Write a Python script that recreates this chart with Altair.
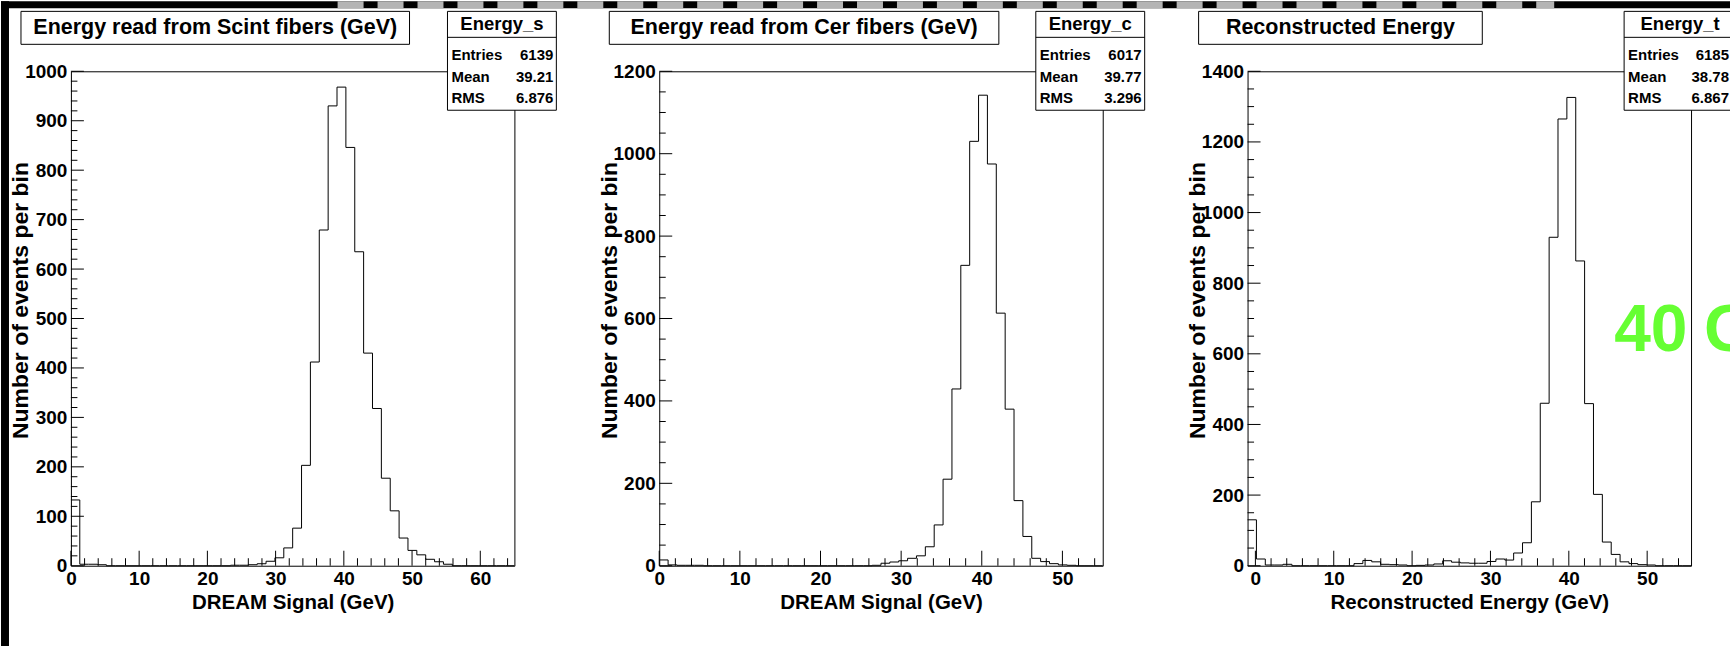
import altair as alt
import numpy as np
import pandas as pd

FONT = "Liberation Sans"
W, H = 444, 495          # plot area of each panel
OFF = 70                 # plot area offset from page top/left (panel 1)

# ---------------- data ----------------
scint_counts = [133, 3, 3, 2, 0, 0, 0, 0, 0, 0,
                0, 0, 0, 0, 0, 0, 0, 0, 1, 1,
                2, 4, 9, 16, 36, 76, 203, 412, 679, 930,
                968, 846, 635, 430, 318, 177, 111, 56, 31, 22,
                13, 8, 3, 0, 0, 0, 0, 0, 0, 0]
cer_counts = [14, 2, 1, 1, 1, 0, 0, 0, 0, 0,
              0, 0, 0, 0, 0, 0, 0, 0, 0, 0,
              0, 0, 0, 0, 1, 6, 9, 12, 18, 24,
              46, 99, 210, 429, 729, 1030, 1142, 975, 613, 380,
              158, 71, 18, 10, 5, 2, 1, 0, 0, 0]
tot_counts = [130, 19, 2, 2, 4, 0, 0, 0, 0, 0,
              0, 0, 6, 15, 11, 4, 3, 2, 0, 1,
              2, 5, 14, 10, 8, 7, 7, 12, 19, 16,
              36, 65, 181, 460, 930, 1265, 1326, 863, 459, 202,
              67, 32, 11, 6, 3, 2, 0, 0, 0, 0]

scint_range = [0.0, 65.0]
cer_range = [0.0, 55.0]
tot_range = [-1.0, 55.6]

panel_titles = ["Energy read from Scint fibers (GeV)",
                "Energy read from Cer fibers (GeV)",
                "Reconstructed Energy"]
x_titles = ["DREAM Signal (GeV)", "DREAM Signal (GeV)", "Reconstructed Energy (GeV)"]
y_title = "Number of events per bin"
stat_names = ["Energy_s", "Energy_c", "Energy_t"]
stat_entries = ["6139", "6017", "6185"]
stat_means = ["39.21", "39.77", "38.78"]
stat_rms = ["6.876", "3.296", "6.867"]

y_max = [1000, 1200, 1400]
y_major_step = [100, 200, 200]
y_minor_step = [20, 50, 50]
x_major_ticks = [[0, 10, 20, 30, 40, 50, 60], [0, 10, 20, 30, 40, 50], [0, 10, 20, 30, 40, 50]]

one = pd.DataFrame({"a": [0]})


def hist_df(counts, rng):
    edges = np.linspace(rng[0], rng[1], len(counts) + 1)
    return pd.DataFrame({"x": edges, "y": list(counts) + [counts[-1]]})


def txt(text, x, y, size, align="center", baseline="middle", color="black", clip=False):
    kw = dict(text=text, font=FONT, fontSize=size, fontWeight="bold", color=color,
              align=align, baseline=baseline)
    if clip:
        kw["clip"] = True
    return alt.Chart(one).mark_text(**kw).encode(x=alt.value(x), y=alt.value(y))


def box(x0, x1, y0, y1):
    return alt.Chart(one).mark_rect(fill="white", stroke="black", strokeWidth=1).encode(
        x=alt.value(x0), x2=alt.value(x1), y=alt.value(y0), y2=alt.value(y1))


def hline(x0, x1, y, color="black", width=1, dash=None):
    kw = dict(color=color, strokeWidth=width)
    if dash:
        kw["strokeDash"] = dash
    return alt.Chart(one).mark_rule(**kw).encode(
        x=alt.value(x0), x2=alt.value(x1), y=alt.value(y))


def vline(x, y0, y1):
    return alt.Chart(one).mark_rule(color="black", strokeWidth=1).encode(
        x=alt.value(x), y=alt.value(y0), y2=alt.value(y1))


def filled(x0, x1, y0, y1, color):
    return alt.Chart(one).mark_rect(color=color, strokeWidth=0).encode(
        x=alt.value(x0), x2=alt.value(x1), y=alt.value(y0), y2=alt.value(y1))


def panel(i, counts, rng, title_box, open_right=False, pre=None, extra=None):
    lo, hi = rng
    xs = alt.Scale(domain=[lo, hi], nice=False, zero=False)
    ys = alt.Scale(domain=[0, y_max[i]], nice=False, zero=False)
    ymaj = list(range(0, y_max[i] + 1, y_major_step[i]))
    ymin = [v for v in range(0, y_max[i] + 1, y_minor_step[i]) if v not in ymaj]
    xmaj = x_major_ticks[i]
    xmin = [v for v in range(2, int(hi), 2) if v % 10 != 0]

    x_axis = alt.Axis(values=xmaj, format="d", title=x_titles[i], titleY=43,
                      titleBaseline="alphabetic", labelPadding=4)
    y_axis = alt.Axis(values=ymaj, format="d", title=y_title, titleX=-50, titleY=229,
                      titleAngle=270, titleBaseline="middle", titleAlign="center",
                      titleFontSize=23, labelPadding=4)

    hist = alt.Chart(hist_df(counts, rng)).mark_line(
        interpolate="step-after", color="black", strokeWidth=1
    ).encode(
        x=alt.X("x:Q", scale=xs, axis=x_axis, title=x_titles[i]),
        y=alt.Y("y:Q", scale=ys, axis=y_axis, title=y_title),
    )

    def yt(vals, length):
        return alt.Chart(pd.DataFrame({"y": vals})).mark_rule(color="black", strokeWidth=1).encode(
            y=alt.Y("y:Q", scale=ys, axis=y_axis, title=y_title),
            x=alt.value(0), x2=alt.value(length))

    def xt(vals, length):
        return alt.Chart(pd.DataFrame({"x": vals})).mark_rule(color="black", strokeWidth=1).encode(
            x=alt.X("x:Q", scale=xs, axis=x_axis, title=x_titles[i]),
            y=alt.value(H), y2=alt.value(H - length))

    layers = list(pre or [])
    layers += [hist, yt(ymaj, 13), yt(ymin, 6.5), xt(xmaj, 15), xt(xmin, 7.5)]

    # title box
    tx0, tx1 = title_box
    layers += [box(tx0, tx1, -60, -27), txt(panel_titles[i], (tx0 + tx1) / 2, -43, 21.5)]

    # statistics box
    bx0, bx1 = 377, 486
    if open_right:
        edge = 1731 - 1248
        layers += [filled(bx0, edge, -60, 39, "white"),
                   hline(bx0, edge, -60), hline(bx0, edge, 39), vline(bx0, -60, 39),
                   hline(bx0, edge, -34)]
        vx = edge - 1
        hx = (bx0 + edge + 6) / 2
    else:
        layers += [box(bx0, bx1, -60, 39), hline(bx0, bx1, -34)]
        vx = bx1 - 3
        hx = (bx0 + bx1) / 2
    layers += [txt(stat_names[i], hx, -47, 18.5)]
    for lab, val, yy in [("Entries", stat_entries[i], -16), ("Mean", stat_means[i], 6),
                         ("RMS", stat_rms[i], 27)]:
        layers += [txt(lab, bx0 + 4, yy, 15, align="left"),
                   txt(val, vx, yy, 15, align="right")]
    if extra:
        layers += extra
    return alt.layer(*layers).properties(width=W, height=H)


# page decorations (slide background) in panel 1's coordinate frame
decor = [
    filled(-OFF, 1731 - OFF, -OFF, -OFF + 7, "black"),
    hline(337 - OFF, 1555 - OFF, -OFF + 3.5, color="#b4b4b4", width=7, dash=[26, 14]),
    filled(-OFF, -OFF + 8, -OFF, 646 - OFF, "black"),
]

GREEN = "#66ff33"
p1 = panel(0, scint_counts, scint_range, (-50, 339), pre=decor)
p2 = panel(1, cer_counts, cer_range, (-50, 340))
p3 = panel(2, tot_counts, tot_range, (-49, 235), open_right=True,
           extra=[txt("40", 367, 280, 66, align="left", baseline="alphabetic", color=GREEN)])

# thin strip right of panel 3 carrying the cut-off "G" of the slide text
p4 = alt.layer(
    txt("G", 12, 280, 66, align="left", baseline="alphabetic", color=GREEN, clip=True)
).properties(width=1731 - 1693, height=H, view=alt.ViewBackground(strokeOpacity=0))

right = alt.hconcat(p3, p4, spacing=1, bounds="flush")

chart = alt.hconcat(p1, p2, right, spacing=145, bounds="flush").properties(
    padding=0, background="white"
).configure_view(
    stroke="black", strokeWidth=1
).configure_axis(
    labelFont=FONT, labelFontWeight="bold", labelFontSize=19, labelColor="black",
    titleFont=FONT, titleFontWeight="bold", titleFontSize=20.5, titleColor="black",
    ticks=False, tickSize=0, domain=False, grid=False, labelOverlap=False, labelFlush=False,
)

chart.save("out.html", embed_options={"renderer": "svg", "actions": False})
